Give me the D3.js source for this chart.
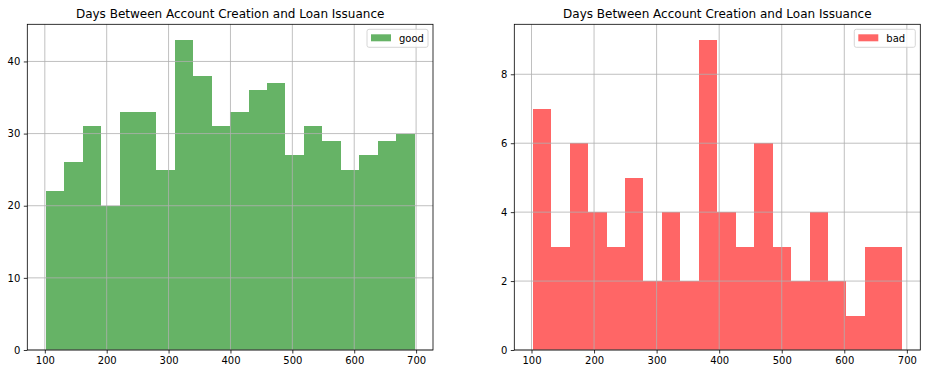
<!DOCTYPE html>
<html>
<head>
<meta charset="utf-8">
<script src="https://cdn.jsdelivr.net/npm/d3@7"></script>
<style>
  body { margin: 0; background: #fff; }
  text { font-family: "DejaVu Sans", sans-serif; fill: #000; }
</style>
</head>
<body>
<script>
// histogram counts
const goodCounts = [22, 26, 31, 20, 33, 33, 25, 43, 38, 31, 33, 36, 37, 27, 31, 29, 25, 27, 29, 30];
const badCounts = [7, 3, 6, 4, 3, 5, 2, 4, 2, 9, 4, 3, 6, 3, 2, 4, 2, 1, 3, 3];
// bin start and bin width (days)
const goodBins = [101.5, 29.8];
const badBins = [102, 29.5];
const xTicks = [100, 200, 300, 400, 500, 600, 700];
const goodYTicks = [0, 10, 20, 30, 40];
const badYTicks = [0, 2, 4, 6, 8];
const title = "Days Between Account Creation and Loan Issuance";

var w = 936, h = 380;

var svg = d3.select("body").append("svg")
    .attr("width", w)
    .attr("height", h);

function panel(left, right, counts, bins, yTicks, color, label) {
    var top = 24.3, bottom = 350;
    var n = counts.length;
    var lo = bins[0], hi = bins[0] + bins[1] * n;
    var pad = (hi - lo) * 0.05;
    var x = d3.scaleLinear().domain([lo - pad, hi + pad]).range([left, right]);
    var ymax = d3.max(counts) * 1.05;
    var y = d3.scaleLinear().domain([0, ymax]).range([bottom, top]);

    var g = svg.append("g");

    // bars
    g.append("g").selectAll("rect")
        .data(counts)
        .enter()
        .append("rect")
        .attr("x", (d, i) => x(lo + i * bins[1]))
        .attr("width", (d, i) => x(lo + (i + 1) * bins[1]) - x(lo + i * bins[1]))
        .attr("y", d => y(d))
        .attr("height", d => y(0) - y(d))
        .attr("fill", color)
        .attr("fill-opacity", 0.6)
        .attr("shape-rendering", "crispEdges");

    // grid on top of bars
    var grid = g.append("g").attr("stroke", "#b0b0b0").attr("stroke-width", 0.8);
    grid.selectAll(".gx").data(xTicks).enter().append("line")
        .attr("x1", d => x(d)).attr("x2", d => x(d))
        .attr("y1", top).attr("y2", bottom);
    grid.selectAll(".gy").data(yTicks).enter().append("line")
        .attr("x1", left).attr("x2", right)
        .attr("y1", d => y(d)).attr("y2", d => y(d));

    // axes
    var xAxis = d3.axisBottom(x).tickValues(xTicks).tickSize(3.5).tickPadding(3.5);
    var yAxis = d3.axisLeft(y).tickValues(yTicks).tickSize(3.5).tickPadding(3.5);
    var gx = g.append("g").attr("transform", `translate(0,${bottom})`).call(xAxis);
    var gy = g.append("g").attr("transform", `translate(${left},0)`).call(yAxis);
    [gx, gy].forEach(a => {
        a.select(".domain").remove();
        a.selectAll("line").attr("stroke", "#000").attr("stroke-width", 0.8);
        a.selectAll("text").style("font-size", "10px").attr("fill", "#000")
            .style("font-family", "DejaVu Sans, sans-serif");
    });

    // frame
    g.append("rect")
        .attr("x", left).attr("y", top)
        .attr("width", right - left).attr("height", bottom - top)
        .attr("fill", "none").attr("stroke", "#000").attr("stroke-width", 0.8);

    // title
    g.append("text")
        .attr("x", (left + right) / 2).attr("y", top - 6)
        .attr("text-anchor", "middle")
        .style("font-size", "12px")
        .text(title);

    // legend
    var lg = g.append("g").attr("transform", `translate(${right - 66},${top + 5})`);
    lg.append("rect")
        .attr("width", 61).attr("height", 18).attr("rx", 2)
        .attr("fill", "#fff").attr("fill-opacity", 0.8)
        .attr("stroke", "#ccc").attr("stroke-width", 0.8);
    lg.append("rect")
        .attr("x", 4).attr("y", 5).attr("width", 20).attr("height", 7)
        .attr("fill", color).attr("fill-opacity", 0.6);
    lg.append("text")
        .attr("x", 32).attr("y", 12.5)
        .style("font-size", "10px")
        .text(label);
}

panel(27.3, 433, goodCounts, goodBins, goodYTicks, "#008000", "good");
panel(514.3, 920.3, badCounts, badBins, badYTicks, "#ff0000", "bad");
</script>
</body>
</html>
